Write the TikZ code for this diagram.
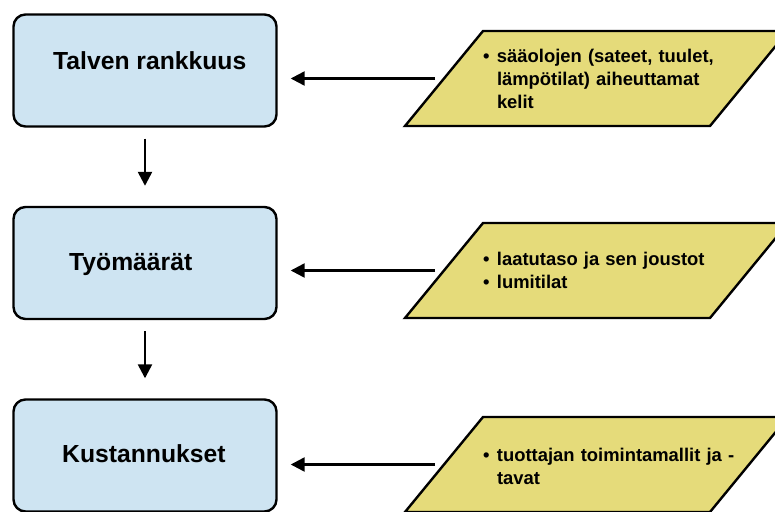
\documentclass[tikz,border=0pt]{standalone}
\usepackage{fontspec}
\setmainfont{Liberation Sans}
\usetikzlibrary{arrows.meta}
\definecolor{stageblue}{RGB}{206,228,242}
\definecolor{factoryellow}{RGB}{229,219,122}
\newcommand\bul{\makebox[14pt][l]{\textbullet}}
\newcommand\ind{\hspace*{14pt}}
\begin{document}
\begin{tikzpicture}[x=1pt,y=-1pt,
  stage/.style={draw=black,line width=2.4pt,fill=stageblue,rounded corners=12pt,
    minimum width=263pt,minimum height=112pt},
  stagelabel/.style={font=\bfseries\fontsize{24.7}{29}\selectfont,anchor=base west,inner sep=0pt},
  factorshape/.style={draw=black,line width=2.4pt,fill=factoryellow,line join=miter},
  factor/.style={inner sep=0pt,text width=227pt,align=left,
    font=\bfseries\fontsize{18.4}{23}\selectfont},
  flow/.style={line width=2.4pt,-{Triangle[length=14pt,width=14pt]}}]
\clip (0,0) rectangle (775,511);
% left column
\node[stage] (rank) at (145,70.5) {};
\node[stage] (work) at (145,263) {};
\node[stage] (cost) at (145,455.5) {};
\node[stagelabel] (rankt) at (53,70) {Talven rankkuus};
\node[stagelabel] (workt) at (69,270) {Työmäärät};
\node[stagelabel] (costt) at (62,462) {Kustannukset};
% right column: parallelograms and their entry points
\foreach \y in {78.5,270.5,464.5}
  \draw[factorshape] (596.5,\y) ++(-191.5,47.5) -- ++(305,0) -- ++(78,-95) -- ++(-305,0) -- cycle;
\coordinate (weatherin) at (444,78.5);
\coordinate (qualityin) at (444,270.5);
\coordinate (producerin) at (444,464.5);
\node[factor] (weather) at (596.5,78.5) {\mbox{\bul sääolojen (sateet, tuulet,}\\\mbox{\ind lämpötilat) aiheuttamat}\\\ind kelit};
\node[factor] (quality) at (596.5,270.5) {\bul laatutaso ja sen joustot\\\bul lumitilat};
\node[factor] (producer) at (596.5,466) {\mbox{\bul tuottajan toimintamallit ja -}\\\ind tavat};
% arrows
\draw[flow,shorten <=11pt,shorten >=20pt] (rank) -- (work);
\draw[flow,shorten <=11pt,shorten >=20pt] (work) -- (cost);
\draw[flow,shorten <=9pt,shorten >=13pt] (weatherin) -- (weatherin -| rank.east);
\draw[flow,shorten <=9pt,shorten >=13pt] (qualityin) -- (qualityin -| work.east);
\draw[flow,shorten <=9pt,shorten >=13pt] (producerin) -- (producerin -| cost.east);
\end{tikzpicture}
\end{document}
